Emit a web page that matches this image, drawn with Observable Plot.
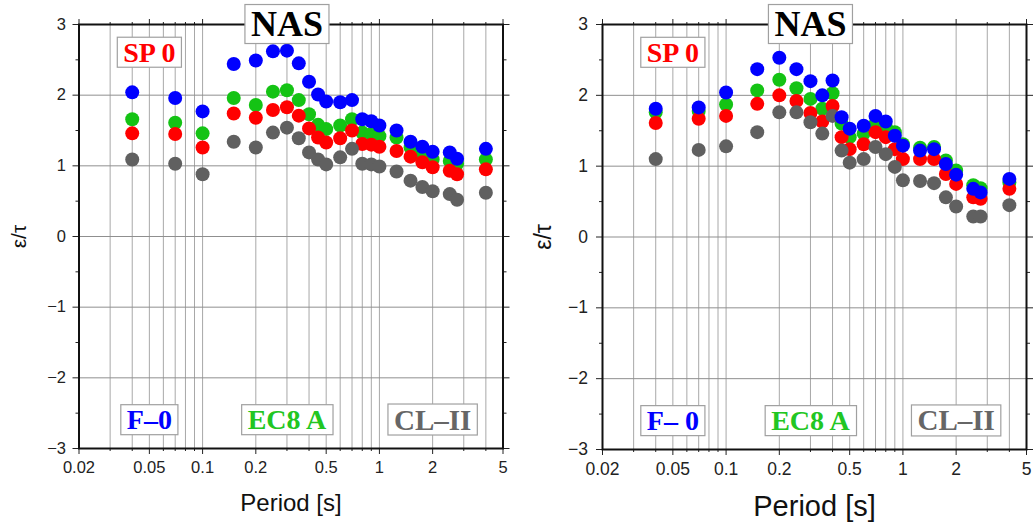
<!DOCTYPE html>
<html><head><meta charset="utf-8">
<script src="https://cdn.jsdelivr.net/npm/d3@7"></script>
<script src="https://cdn.jsdelivr.net/npm/@observablehq/plot@0.6"></script>
<style>
body{margin:0;background:#fff;}
#wrap{position:relative;width:1035px;height:528px;overflow:hidden;background:#fff;}
#wrap > div{position:absolute;top:0;}
</style></head><body>
<div id="wrap"><div id="p1" style="left:0px"></div><div id="p2" style="left:520px"></div></div>
<script>
// ---- data ----
const periods = [0.04,0.07,0.1,0.15,0.2,0.25,0.3,0.35,0.4,0.45,0.5,0.6,0.7,0.8,0.9,1.0,1.25,1.5,1.75,2.0,2.5,2.75,4.0];

const leftF0  = [2.04,1.96,1.77,2.44,2.49,2.62,2.63,2.45,2.19,2.01,1.91,1.90,1.93,1.66,1.63,1.57,1.50,1.34,1.27,1.20,1.19,1.10,1.24];
const leftEC8 = [1.66,1.61,1.46,1.96,1.86,2.05,2.07,1.93,1.73,1.58,1.52,1.57,1.66,1.47,1.45,1.42,1.40,1.26,1.17,1.09,1.07,1.03,1.09];
const leftSP0 = [1.46,1.45,1.26,1.74,1.68,1.79,1.83,1.71,1.53,1.40,1.33,1.39,1.50,1.31,1.30,1.27,1.21,1.13,1.05,0.98,0.93,0.88,0.95];
const leftCL  = [1.09,1.03,0.88,1.34,1.26,1.47,1.54,1.39,1.19,1.09,1.02,1.12,1.24,1.03,1.02,0.99,0.92,0.79,0.70,0.64,0.60,0.52,0.62];

const rightF0  = [1.81,1.83,2.04,2.37,2.53,2.37,2.20,2.00,2.21,1.69,1.53,1.57,1.71,1.63,1.43,1.29,1.22,1.24,1.03,0.88,0.68,0.63,0.82];
const rightEC8 = [1.76,1.78,1.87,2.07,2.22,2.10,1.95,1.81,2.03,1.60,1.41,1.46,1.60,1.55,1.48,1.31,1.26,1.27,1.08,0.94,0.73,0.69,0.77];
const rightSP0 = [1.61,1.67,1.71,1.88,2.00,1.92,1.75,1.63,1.85,1.41,1.24,1.31,1.48,1.41,1.24,1.10,1.10,1.10,0.89,0.75,0.56,0.54,0.68];
const rightCL  = [1.10,1.23,1.28,1.48,1.76,1.76,1.62,1.46,1.71,1.22,1.05,1.10,1.27,1.17,0.99,0.80,0.79,0.76,0.56,0.43,0.29,0.29,0.45];

// draw order: EC8 A (green), SP 0 (red), CL-II (gray), F-0 (blue)
const seriesColors = ["#14c314", "#ff0000", "#606060", "#0000ff"];

const xTickValues = [0.02,0.05,0.1,0.2,0.5,1,2,5];
const xTickLabels = ["0.02","0.05","0.1","0.2","0.5","1","2","5"];
const xGridValues = [0.03,0.04,0.05,0.06,0.07,0.08,0.09,0.1,0.2,0.3,0.4,0.5,0.6,0.7,0.8,0.9,1,2,3,4];
const yTickValues = [-3,-2,-1,0,1,2,3];
const yTickLabels = ["\u22123","\u22122","\u22121","0","1","2","3"];
const yMinorValues = [-2.5,-1.5,-0.5,0.5,1.5,2.5];
const yGridValues = [-2,-1,0,1,2];

const leftLabelTexts  = ["NAS","SP 0","F\u20130","EC8 A","CL\u2013II"];
const rightLabelTexts = ["NAS","SP 0","F\u2013 0","EC8 A","CL\u2013II"];
const labelPeriods = [0.3, 0.05, 0.05, 0.3, 2.0];
const labelValues  = [3.0, 2.6, -2.6, -2.6, -2.6];
const labelColors  = ["#000000", "#ff0000", "#0000ff", "#22c622", "#666666"];
const labelSizes   = [36, 28, 28, 28, 29];

const xTitle = "Period [s]";
const yTitle = "\u03b5/\u03c4";

// ---- drawing ----
const xMinor = xGridValues.filter(v => !xTickValues.includes(v));
const noText = () => "";

function panel(cfg) {
  const series = [cfg.ec8, cfg.sp0, cfg.cl, cfg.f0];
  const marks = [
    Plot.gridX(xGridValues, {stroke: "#a8a8a8", strokeOpacity: 1, strokeWidth: 1}),
    Plot.gridY(yGridValues, {stroke: "#8f8f8f", strokeOpacity: 1, strokeWidth: 1}),
    Plot.axisX(xTickValues, {anchor: "bottom", tickSize: 6, tickFormat: noText, label: null, color: "#222"}),
    Plot.axisX(xMinor, {anchor: "bottom", tickSize: 3, tickFormat: noText, label: null, color: "#222"}),
    Plot.axisX(xTickValues, {anchor: "top", tickSize: 6, tickFormat: noText, label: null, color: "#222"}),
    Plot.axisX(xMinor, {anchor: "top", tickSize: 3, tickFormat: noText, label: null, color: "#222"}),
    Plot.axisY(yTickValues, {anchor: "left", tickSize: 6, tickFormat: noText, label: null, color: "#222"}),
    Plot.axisY(yMinorValues, {anchor: "left", tickSize: 3, tickFormat: noText, label: null, color: "#222"}),
    Plot.axisY(yTickValues, {anchor: "right", tickSize: 6, tickFormat: noText, label: null, color: "#222"}),
    Plot.axisY(yMinorValues, {anchor: "right", tickSize: 3, tickFormat: noText, label: null, color: "#222"}),
    // tick labels
    Plot.text(xTickValues, {x: d => d, text: (d, i) => xTickLabels[i], frameAnchor: "bottom", textAnchor: "middle", lineAnchor: "top", dy: 13, fontSize: cfg.tickFont, fill: "#222"}),
    Plot.text(yTickValues, {y: d => d, text: (d, i) => yTickLabels[i], frameAnchor: "left", textAnchor: "end", lineAnchor: "middle", dx: -(6 + cfg.yPad), fontSize: cfg.tickFont, fill: "#222"}),
    Plot.frame({stroke: "#111", strokeWidth: 2}),
    ...series.map((vals, s) => Plot.dot(periods.map((p, i) => ({p, v: vals[i]})), {x: "p", y: "v", r: 7, fill: seriesColors[s], stroke: "none"})),
    Plot.text([xTitle], {frameAnchor: "bottom", textAnchor: "middle", lineAnchor: "middle", dy: cfg.xTitleDy, fontSize: cfg.xTitleFont, fill: "#111"}),
    Plot.text([yTitle], {frameAnchor: "left", textAnchor: "middle", lineAnchor: "middle", rotate: -90, dx: cfg.yTitleDx, fontSize: cfg.yTitleFont, fill: "#111"}),
    ...cfg.labels.map((t, i) => Plot.text([{p: labelPeriods[i], v: labelValues[i], t}], {
      x: "p", y: "v", text: "t", fill: labelColors[i], fontSize: labelSizes[i],
      fontWeight: "bold", fontFamily: "Liberation Serif, Times New Roman, serif",
      textAnchor: "middle", lineAnchor: "middle"
    }))
  ];
  return Plot.plot({
    width: cfg.width, height: 528,
    marginLeft: cfg.ml, marginRight: cfg.mr, marginTop: 24, marginBottom: cfg.mb,
    x: {type: "log", domain: [0.02, 5], label: null},
    y: {domain: [-3, 3], label: null},
    style: {fontFamily: "Liberation Sans, Arial, sans-serif", background: "transparent", overflow: "visible"},
    marks
  });
}

function addBoxes(svg, labels) {
  const set = new Set(labels);
  svg.querySelectorAll("text").forEach(t => {
    if (!set.has(t.textContent)) return;
    const b = t.getBBox();
    const padX = 6;
    const r = document.createElementNS("http://www.w3.org/2000/svg", "rect");
    r.setAttribute("x", b.x - padX);
    r.setAttribute("y", b.y + 0.5);
    r.setAttribute("width", b.width + 2 * padX);
    r.setAttribute("height", b.height - 1);
    r.setAttribute("fill", "#fff");
    r.setAttribute("stroke", "#a0a0a0");
    r.setAttribute("stroke-width", "1.2");
    const tr = t.getAttribute("transform");
    if (tr) r.setAttribute("transform", tr);
    t.parentNode.insertBefore(r, t);
  });
}

const left = panel({ec8: leftEC8, sp0: leftSP0, cl: leftCL, f0: leftF0, labels: leftLabelTexts,
  width: 515, ml: 78.5, mr: 12.5, mb: 80, tickFont: 16.5, yPad: 7, xTitleDy: 55, xTitleFont: 24, yTitleDx: -59.5, yTitleFont: 21});
document.getElementById("p1").appendChild(left);
addBoxes(left, leftLabelTexts);

const right = panel({ec8: rightEC8, sp0: rightSP0, cl: rightCL, f0: rightF0, labels: rightLabelTexts,
  width: 515, ml: 82, mr: 9, mb: 79, tickFont: 17.5, yPad: 8.5, xTitleDy: 57, xTitleFont: 29, yTitleDx: -59, yTitleFont: 23});
document.getElementById("p2").appendChild(right);
addBoxes(right, rightLabelTexts);
</script>
</body></html>
